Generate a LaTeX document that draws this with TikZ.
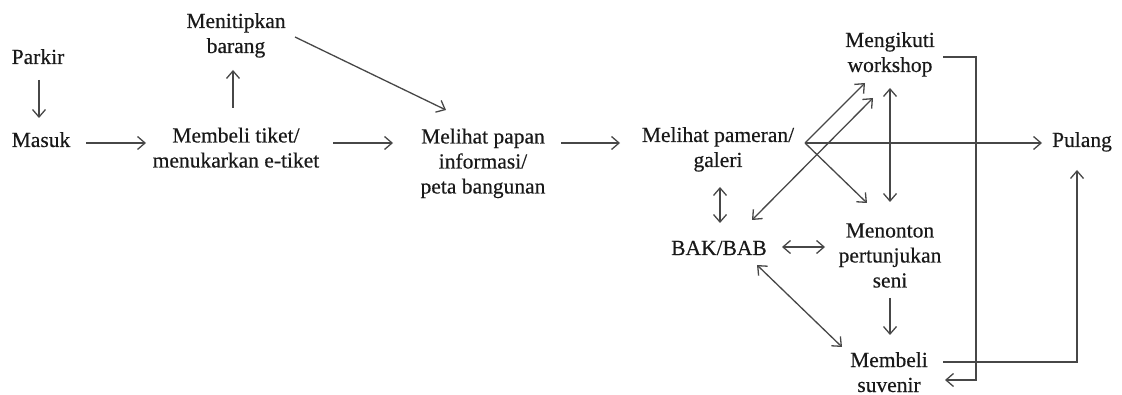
\documentclass[tikz,border=0pt]{standalone}
\usepackage{fontspec}
\setmainfont{Liberation Serif}[FakeBold=0.35]
\usetikzlibrary{arrows.meta,calc}
\newcommand\ls{\rule[-7.5pt]{0pt}{25pt}}
\tikzset{
  lbl/.style={align=center, inner sep=0pt, outer sep=0pt,
    font=\fontsize{21.5}{25}\selectfont, text=black!90},
  >={Straight Barb[length=7.5pt,width=13pt]},
  arr/.style={line width=1.3pt, draw=black!72, ->},
  darr/.style={line width=1.3pt, draw=black!72, <->}
}
\begin{document}
\begin{tikzpicture}[x=1pt,y=-1pt]
\path[use as bounding box, fill=white] (0,0) rectangle (1122,395);
% nodes
\node[lbl] (parkir)   at (38,59)      {\ls Parkir};
\node[lbl] (masuk)    at (41,142)     {\ls Masuk};
\node[lbl] (membeli)  at (236,150)    {\ls Membeli tiket/\\\ls menukarkan e-tiket};
\node[lbl] (menitip)  at (236,35.5)   {\ls Menitipkan\\\ls barang};
\node[lbl] (papan)    at (483,163.5)  {\ls Melihat papan\\\ls informasi/\\\ls peta bangunan};
\node[lbl] (pameran)  at (718,149.5)  {\ls Melihat pameran/\\\ls galeri};
\node[lbl] (workshop) at (890,54.5)   {\ls Mengikuti\\\ls workshop};
\node[lbl] (pulang)   at (1082,142)   {\ls Pulang};
\node[lbl] (bak)      at (719,250)    {\ls BAK/BAB};
\node[lbl] (menonton) at (890,257.5)  {\ls Menonton\\\ls pertunjukan\\\ls seni};
\node[lbl] (suvenir)  at (889,374.5)  {\ls Membeli\\\ls suvenir};
% connectors
\draw[arr] ($(parkir)+(1,21)$) -- ($(masuk)+(-2,-24)$);
\draw[arr] ($(masuk)+(45,1)$) -- ($(membeli)+(-90,-7)$);
\draw[arr] ($(membeli)+(-3,-42)$) -- ($(menitip)+(-3,34.5)$);
\draw[arr] ($(menitip)+(59,1.5)$) -- ($(papan)+(-37,-53.5)$);
\draw[arr] ($(membeli)+(97,-7)$) -- ($(papan)+(-90,-20.5)$);
\draw[arr] ($(papan)+(78,-20.5)$) -- ($(pameran)+(-98,-6.5)$);
\draw[arr] ($(pameran)+(87,-6.5)$) -- ($(pulang)+(-40,1)$);
\draw[arr] ($(pameran)+(87,-6.5)$) -- ($(workshop)+(-25,28.5)$);
\draw[arr] ($(pameran)+(87,-6.5)$) -- ($(menonton)+(-23,-54.5)$);
\draw[darr] ($(pameran)+(2,37.5)$) -- ($(bak)+(1,-27)$);
\draw[darr] ($(bak)+(33,-30)$) -- ($(workshop)+(-17,43.5)$);
\draw[darr] ($(workshop)+(0,33.5)$) -- ($(menonton)+(0,-55.5)$);
\draw[darr] ($(bak)+(63,-3)$) -- ($(menonton)+(-65,-10.5)$);
\draw[darr] ($(bak)+(38,15)$) -- ($(suvenir)+(-47,-27.5)$);
\draw[arr] ($(menonton)+(0,40.5)$) -- ($(suvenir)+(1,-39.5)$);
\draw[arr] ($(workshop)+(53,2.5)$) -- ++(33,0) |- ($(suvenir)+(56,5.5)$);
\draw[arr] ($(suvenir)+(54,-12.5)$) -| ($(pulang)+(-5,28)$);
\end{tikzpicture}
\end{document}
